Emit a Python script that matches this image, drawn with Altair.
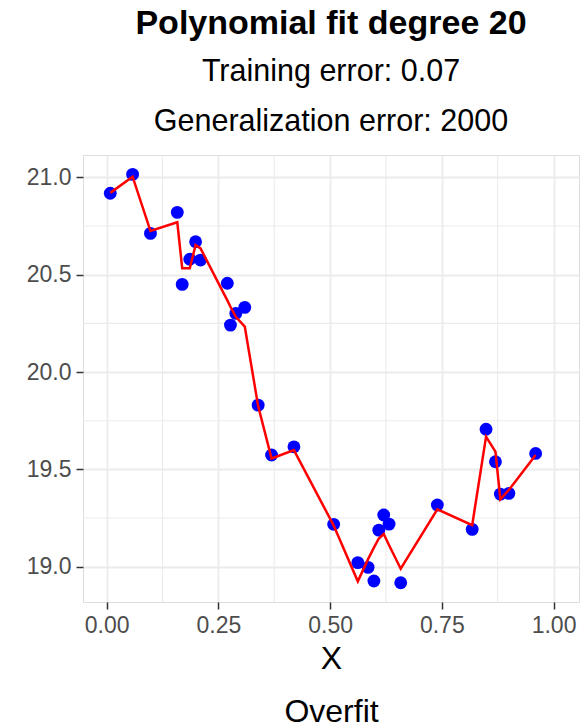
import altair as alt
import pandas as pd

# Data
x_vals = [0.008, 0.058, 0.098, 0.158, 0.169, 0.186, 0.199, 0.210, 0.270, 0.277,
          0.289, 0.309, 0.339, 0.369, 0.419, 0.508, 0.562, 0.585, 0.598, 0.609,
          0.620, 0.632, 0.658, 0.740, 0.818, 0.849, 0.870, 0.881, 0.900, 0.960]
y_obs = [20.918, 21.015, 20.712, 20.820, 20.450, 20.579, 20.669, 20.575, 20.456, 20.241,
         20.301, 20.332, 19.830, 19.574, 19.616, 19.218, 19.021, 18.997, 18.927, 19.188,
         19.266, 19.219, 18.918, 19.317, 19.192, 19.706, 19.539, 19.373, 19.377, 19.582]
y_fit = [20.920, 21.003, 20.724, 20.769, 20.533, 20.533, 20.652, 20.635, 20.368, 20.335,
         20.284, 20.233, 19.825, 19.556, 19.599, 19.212, 18.925, 19.039, 19.098, 19.145,
         19.168, 19.110, 18.990, 19.295, 19.214, 19.668, 19.591, 19.346, 19.395, 19.574]

x_ticks = [0.0, 0.25, 0.5, 0.75, 1.0]
y_ticks = [19.0, 19.5, 20.0, 20.5, 21.0]
x_minor = [0.125, 0.375, 0.625, 0.875]
y_minor = [19.25, 19.75, 20.25, 20.75]

title_text = "Polynomial fit degree 20"
subtitle_lines = ["Training error: 0.07", "Generalization error: 2000"]
x_title = ["X", "Overfit"]

df = pd.DataFrame({"x": x_vals, "y": y_obs, "fit": y_fit})
df_xminor = pd.DataFrame({"x": x_minor})
df_yminor = pd.DataFrame({"y": y_minor})

FONT = "Liberation Sans"
x_scale = alt.Scale(domain=[-0.053, 1.057], nice=False, zero=False)
y_scale = alt.Scale(domain=[18.819, 21.1145], nice=False, zero=False)

x_axis = alt.Axis(values=x_ticks, format=".2f", title=x_title, grid=True,
                  gridColor="#EBEBEB", gridWidth=1.8, domain=False,
                  tickColor="#333333", tickSize=7, tickWidth=1.5,
                  labelColor="#4D4D4D", labelFontSize=23, labelFont=FONT,
                  labelPadding=5, labelFlush=False,
                  titleFont=FONT, titleFontSize=32, titleFontWeight="normal",
                  titleColor="#000000", titlePadding=6, titleLineHeight=53)
y_axis = alt.Axis(values=y_ticks, format=".1f", title=None, grid=True,
                  gridColor="#EBEBEB", gridWidth=1.8, domain=False,
                  tickColor="#333333", tickSize=7, tickWidth=1.5,
                  labelColor="#4D4D4D", labelFontSize=23, labelFont=FONT,
                  labelPadding=5, labelFlush=False)

minor_x = alt.Chart(df_xminor).mark_rule(color="#EBEBEB", strokeWidth=1.1).encode(
    x=alt.X("x:Q", scale=x_scale, axis=x_axis)
)
minor_y = alt.Chart(df_yminor).mark_rule(color="#EBEBEB", strokeWidth=1.1).encode(
    y=alt.Y("y:Q", scale=y_scale, axis=y_axis)
)
points = alt.Chart(df).mark_circle(color="#0000FF", size=165, opacity=1).encode(
    x=alt.X("x:Q", scale=x_scale, axis=x_axis),
    y=alt.Y("y:Q", scale=y_scale, axis=y_axis),
)
line = alt.Chart(df).mark_line(color="#FF0000", strokeWidth=2.5).encode(
    x=alt.X("x:Q", scale=x_scale, axis=x_axis),
    y=alt.Y("fit:Q", scale=y_scale, axis=y_axis),
    order="x:Q",
)

chart = alt.layer(minor_x, minor_y, points, line).properties(
    width=496,
    height=447,
    autosize=alt.AutoSizeParams(type="none"),
    padding={"left": 83, "top": 155, "right": 6, "bottom": 126},
    title=alt.TitleParams(
        text=title_text,
        subtitle=subtitle_lines,
        font=FONT, fontSize=34, fontWeight="bold", color="#000000",
        subtitleFont=FONT, subtitleFontSize=30.5, subtitleColor="#000000",
        subtitleLineHeight=50, subtitlePadding=16,
        anchor="middle", offset=17,
    ),
).configure_view(
    stroke="#333333", strokeWidth=1.5, fill="white"
).configure(background="white")

chart.save("out.html", embed_options={"renderer": "svg", "actions": False})
